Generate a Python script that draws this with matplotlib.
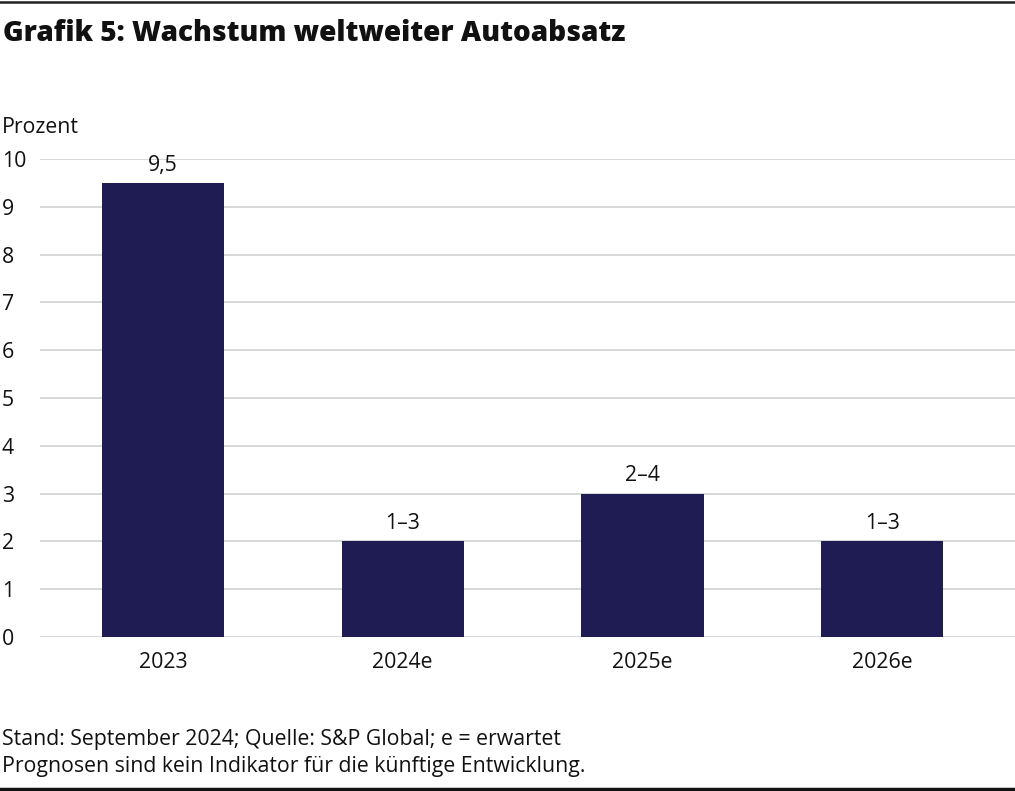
import matplotlib
matplotlib.use('Agg')
import matplotlib.pyplot as plt
from matplotlib.lines import Line2D

# Daten
jahre = ['2023', '2024e', '2025e', '2026e']
werte = [9.5, 2, 3, 2]
beschriftung = ['9,5', '1–3', '2–4', '1–3']
y_ticks = list(range(0, 11))

plt.rcParams['font.family'] = ['Open Sans', 'DejaVu Sans']
fs = 15.3

fig = plt.figure(figsize=(10.15, 7.91), dpi=100)
ax = fig.add_axes([0.0394, 0.1947, 0.9606, 0.6043])

x = range(len(jahre))
bars = ax.bar(x, werte, width=0.51, color='#1e1c52', zorder=3)

for b, txt in zip(bars, beschriftung):
    ax.text(b.get_x() + b.get_width() / 2, b.get_height() + 0.15, txt,
            ha='center', va='bottom', fontsize=fs, color='#111111')

ax.set_xlim(-0.513, 3.554)
ax.set_ylim(0, 10)
ax.set_yticks(y_ticks)
ax.set_xticks(list(x))
ax.set_xticklabels(jahre)
ax.grid(axis='y', color='#d4d4d4', linewidth=1.3, zorder=0)
ax.tick_params(axis='both', length=0, labelsize=fs, colors='#111111')
ax.tick_params(axis='x', pad=11)
ax.tick_params(axis='y', pad=0)
for lbl in ax.get_yticklabels():
    lbl.set_horizontalalignment('left')
    lbl.set_x(-0.039)
for s in ax.spines.values():
    s.set_visible(False)

fig.text(0.003, 0.958, 'Grafik 5: Wachstum weltweiter Autoabsatz',
         fontsize=20.2, fontweight=800, color='#111111', va='center')
fig.text(0.002, 0.839, 'Prozent', fontsize=fs, color='#111111', va='center')
fig.text(0.002, 0.0645, 'Stand: September 2024; Quelle: S&P Global; e = erwartet',
         fontsize=fs, color='#111111', va='center')
fig.text(0.002, 0.0316, 'Prognosen sind kein Indikator für die künftige Entwicklung.',
         fontsize=fs, color='#111111', va='center')

fig.add_artist(Line2D([0, 1], [0.998, 0.998], color='#222222', linewidth=1.8,
                      transform=fig.transFigure))
fig.add_artist(Line2D([0, 1], [0.003, 0.003], color='#111111', linewidth=2.5,
                      transform=fig.transFigure))

fig.savefig('out.png', dpi=100)
